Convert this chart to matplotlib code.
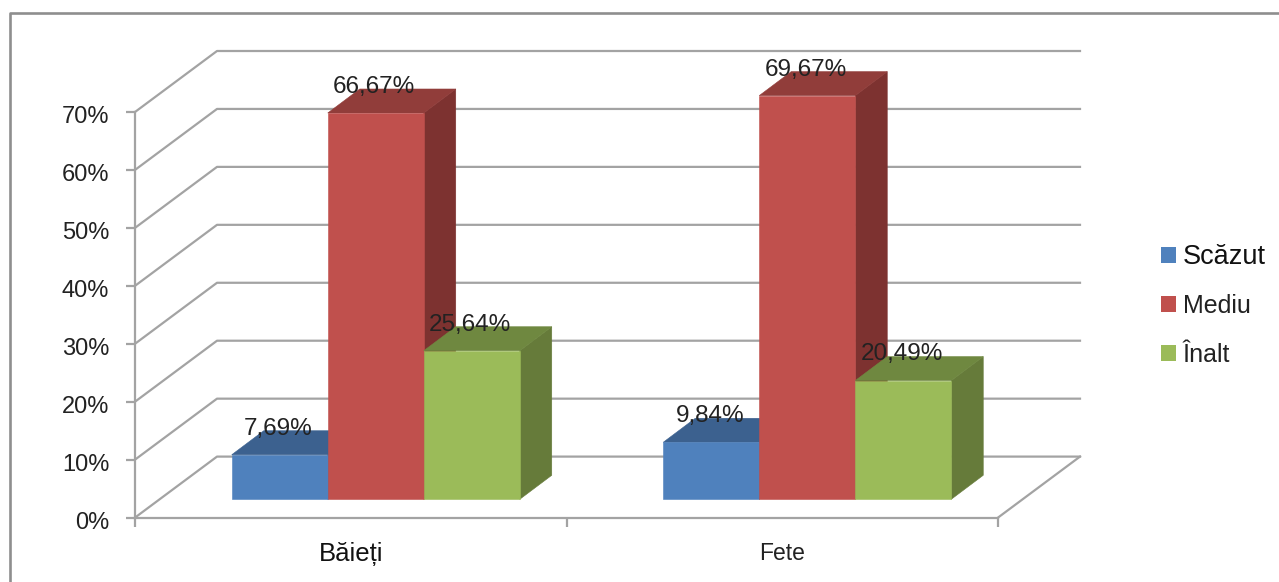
#!/usr/bin/env python3
"""Recreate the 3D-look clustered bar chart with plain 2D axes."""

import matplotlib

matplotlib.use("Agg")

import matplotlib.pyplot as plt
from matplotlib.lines import Line2D
from matplotlib.patches import Patch, Polygon
from matplotlib.transforms import ScaledTranslation

plt.rcParams["font.family"] = ["Liberation Sans", "DejaVu Sans"]

CATEGORIES = ["Băieți", "Fete"]
SERIES = ["Scăzut", "Mediu", "Înalt"]
SCAZUT = [7.69, 9.84]
MEDIU = [66.67, 69.67]
INALT = [25.64, 20.49]
VALUE_LABELS = [["7,69%", "9,84%"], ["66,67%", "69,67%"], ["25,64%", "20,49%"]]
Y_TICKS = [0, 10, 20, 30, 40, 50, 60, 70]

FRONT = ["#4F81BD", "#C0504D", "#9BBB59"]
TOP = ["#3C618F", "#913D3A", "#6F8840"]
SIDE = ["#335279", "#7D3230", "#667B3A"]
GREY = "#A3A3A3"

W, H = 1279, 582
LEFT, RIGHT, BASE, TOP_PX = 135, 998, 517.6, 112
X_PX = (RIGHT - LEFT) / 2
Y_PX = (BASE - TOP_PX) / 70

# depth of the room and of the bars, in data units
WALL_DX, WALL_DY = 82 / X_PX, 61 / Y_PX
BAR_DX, BAR_DY = 32 / X_PX, 24 / Y_PX
BAR_W = 96 / X_PX
BAR_FLOOR = 18.3 / Y_PX
GROUP_SHIFT = 25 / X_PX


def main():
    fig = plt.figure(figsize=(W / 100, H / 100), dpi=100)
    ax = fig.add_axes([LEFT / W, 1 - BASE / H, (RIGHT - LEFT) / W, (BASE - TOP_PX) / H])
    ax.set_xlim(0, 2)
    ax.set_ylim(0, 70)
    ax.patch.set_alpha(0)

    for side in ("top", "right"):
        ax.spines[side].set_visible(False)
    for side in ("left", "bottom"):
        ax.spines[side].set_color(GREY)
        ax.spines[side].set_linewidth(1.6)

    ax.set_yticks(Y_TICKS, [f"{t}%" for t in Y_TICKS], fontsize=17, color="#222222")
    ax.set_xticks([0, 1, 2], ["", "", ""])
    ax.tick_params(axis="both", which="major", color=GREY, width=1.6, length=6.5)
    ax.tick_params(axis="y", pad=12)
    nudge = ScaledTranslation(0, -2 / 72, fig.dpi_scale_trans)
    for label in ax.get_yticklabels():
        label.set_transform(label.get_transform() + nudge)

    # back wall lines and their run back from the axis
    for t in Y_TICKS:
        ax.plot([0, WALL_DX, 2 + WALL_DX], [t, t + WALL_DY, t + WALL_DY],
                color=GREY, linewidth=1.6, clip_on=False, zorder=1)
    ax.plot([2, 2 + WALL_DX], [0, WALL_DY], color=GREY, linewidth=1.6, clip_on=False, zorder=1)

    for s, values in enumerate([SCAZUT, MEDIU, INALT]):
        for c, v in enumerate(values):
            x0 = c + 0.5 + GROUP_SHIFT + (s - 1.5) * BAR_W
            x1 = x0 + BAR_W
            y0 = BAR_FLOOR
            y1 = BAR_FLOOR + v
            ax.add_patch(Polygon([(x1, y0), (x1 + BAR_DX, y0 + BAR_DY), (x1 + BAR_DX, y1 + BAR_DY), (x1, y1)],
                                 facecolor=SIDE[s], edgecolor=SIDE[s], linewidth=0.4, clip_on=False, zorder=3 + s))
            ax.add_patch(Polygon([(x0, y1), (x0 + BAR_DX, y1 + BAR_DY), (x1 + BAR_DX, y1 + BAR_DY), (x1, y1)],
                                 facecolor=TOP[s], edgecolor=TOP[s], linewidth=0.4, clip_on=False, zorder=3 + s))
            ax.bar(x0, v, BAR_W, bottom=y0, align="edge", color=FRONT[s],
                   edgecolor=FRONT[s], linewidth=0.4, clip_on=False, zorder=3 + s)
            ax.annotate(VALUE_LABELS[s][c], (x0 + BAR_W / 2, y1), xytext=(-1, 18.8),
                        textcoords="offset points", ha="center", va="center",
                        fontsize=17.5, color="#222222", zorder=10, annotation_clip=False)

    label_y = -36 / (BASE - TOP_PX)
    ax.text(0.5, label_y, CATEGORIES[0], transform=ax.get_xaxis_transform(), ha="center", va="center",
            fontsize=18.5, color="#111111")
    ax.text(1.5, label_y, CATEGORIES[1], transform=ax.get_xaxis_transform(),
            ha="center", va="center", fontsize=16.5, color="#222222")

    handles = [Patch(facecolor=c, edgecolor="none") for c in FRONT]
    legend = fig.legend(handles, SERIES, loc="upper left", bbox_to_anchor=(1161 / W, 1 - 243.5 / H),
                        frameon=False, fontsize=18, handlelength=0.6, handleheight=0.6,
                        handletextpad=0.27, labelspacing=0.98, borderpad=0, borderaxespad=0)
    for text in legend.get_texts():
        text.set_color("#222222")
    legend.get_texts()[0].set_fontsize(19.5)
    legend.get_texts()[0].set_color("#111111")

    # chart frame, cut off by the right and bottom edges of the picture
    fig.add_artist(Line2D([10 / W, 10 / W, 1], [0, 1 - 13 / H, 1 - 13 / H], color="#8E8E8E", linewidth=1.9))

    fig.savefig("out.png", dpi=100)
    plt.close(fig)


if __name__ == "__main__":
    main()
